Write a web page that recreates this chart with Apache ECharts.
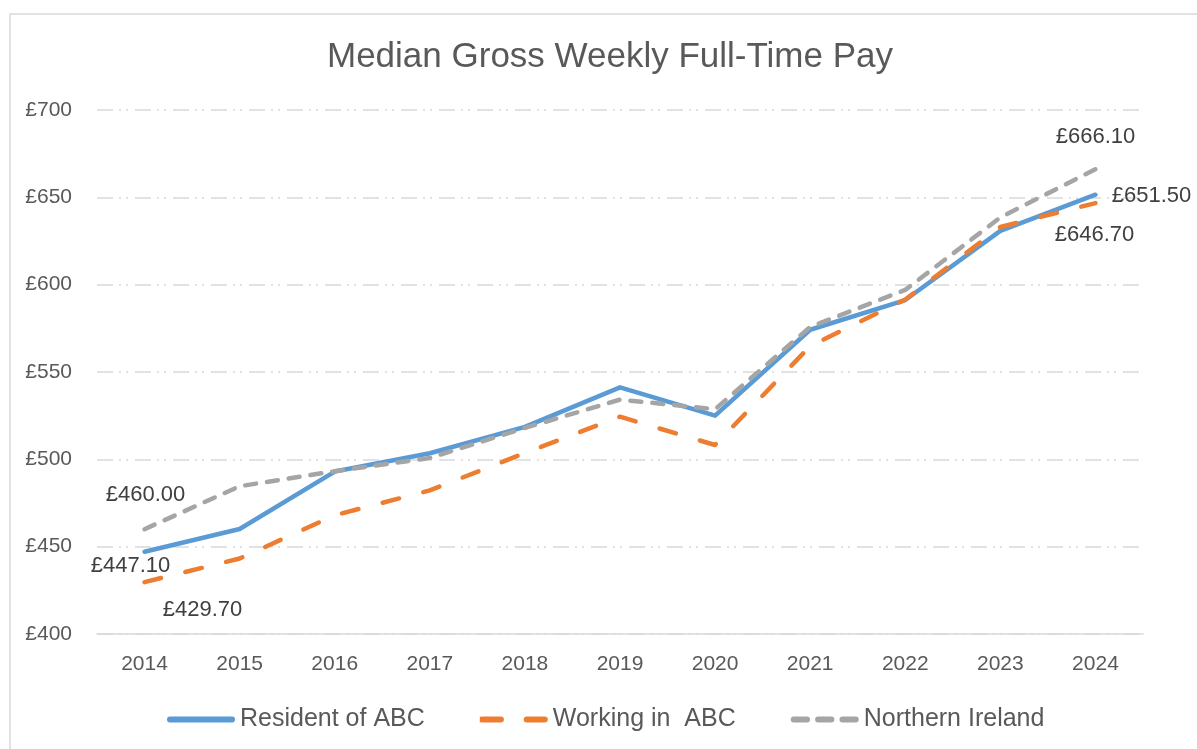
<!DOCTYPE html>
<html>
<head>
<meta charset="utf-8">
<script src="https://cdn.jsdelivr.net/npm/echarts@6/dist/echarts.min.js"></script>
<style>
  html, body { margin: 0; padding: 0; background: #fff; }
  #chart { width: 1197px; height: 749px; }
</style>
</head>
<body>
<div id="chart"></div>
<script>
// values
const years = ["2014", "2015", "2016", "2017", "2018", "2019", "2020", "2021", "2022", "2023", "2024"]
const residentABC = [447.1, 460.1, 493.0, 503.5, 518.6, 541.2, 525.0, 574.2, 591.2, 630.8, 651.5]
const workingABC = [429.7, 443.2, 468.0, 482.2, 503.6, 524.4, 508.2, 564.8, 591.5, 633.0, 646.7]
const northernIreland = [460.0, 484.6, 493.2, 500.8, 518.0, 534.2, 528.7, 575.8, 597.0, 638.5, 666.1]
const yTicks = { min: 400, max: 700, step: 50 }

const BLUE = "#5b9bd5"
const ORANGE = "#ed7d31"
const GREY = "#a5a5a5"
const TEXT = "#595959"
const GRIDLINE = "#d9d9d9"

// only first and last point get a label
function endLabels(values, firstOffset, lastOffset) {
  return values.map((v, i) => {
    if (i === 0) return { value: v, label: { show: true, offset: firstOffset } }
    if (i === values.length - 1) return { value: v, label: { show: true, offset: lastOffset } }
    return v
  })
}

// rounded dash pieces for the legend icons (box 68 x 6)
function dash(x0, x1) {
  return `M${x0 + 3},0H${x1 - 3}A3,3,0,0,1,${x1 - 3},6H${x0 + 3}A3,3,0,0,1,${x0 + 3},0Z`
}

const pointLabel = {
  show: false,
  position: "inside",
  fontFamily: "Liberation Sans",
  fontSize: 22,
  color: "#404040",
  formatter: p => "£" + p.value.toFixed(2),
}

function lineSeries(name, values, color, type, firstOffset, lastOffset) {
  return {
    name: name,
    type: "line",
    data: endLabels(values, firstOffset, lastOffset),
    symbol: "circle",
    symbolSize: 0.01,
    showSymbol: true,
    showAllSymbol: true,
    itemStyle: { color: color },
    lineStyle: { color: color, width: 4.5, type: type, cap: "round", join: "round" },
    label: pointLabel,
    emphasis: { disabled: true },
  }
}

const chart = echarts.init(document.getElementById("chart"))
chart.setOption({
  animation: false,
  backgroundColor: "#fff",
  graphic: [
    {
      type: "rect",
      shape: { x: 10, y: 14, width: 1200, height: 760 },
      style: { fill: "none", stroke: GRIDLINE, lineWidth: 1.5 },
      silent: true,
    },
  ],
  title: {
    text: "Median Gross Weekly Full-Time Pay",
    left: 322,
    top: 35,
    textStyle: { fontFamily: "Liberation Sans", fontSize: 35, fontWeight: "normal", color: TEXT },
  },
  tooltip: { show: false },
  legend: {
    left: 162,
    top: 702,
    itemWidth: 68,
    itemHeight: 6,
    itemGap: 55,
    symbolKeepAspect: false,
    textStyle: { fontFamily: "Liberation Sans", fontSize: 25, color: TEXT },
    data: [
      { name: "Resident of ABC", icon: "path://" + dash(0, 71) },
      { name: "Working in  ABC", icon: "path://M0,0H1V6H0Z" + dash(0, 22) + dash(40, 62) },
      { name: "Northern Ireland", icon: "path://" + dash(0, 19) + dash(24, 43) + dash(48, 67) },
    ],
  },
  grid: { left: 97, right: 54, top: 110, bottom: 115 },
  xAxis: {
    type: "category",
    data: years,
    boundaryGap: true,
    axisLine: { show: true, lineStyle: { color: GRIDLINE, width: 1.5 } },
    axisTick: { show: false },
    axisLabel: { fontFamily: "Liberation Sans", fontSize: 21, color: TEXT, margin: 20 },
  },
  yAxis: {
    type: "value",
    min: yTicks.min,
    max: yTicks.max,
    interval: yTicks.step,
    axisLine: { show: false },
    axisTick: { show: false },
    axisLabel: { fontFamily: "Liberation Sans", fontSize: 21, color: TEXT, margin: 25, formatter: "£{value}" },
    splitLine: {
      lineStyle: { color: GRIDLINE, width: 1.5, type: [16, 6, 2, 5, 2, 7] },
    },
  },
  series: [
    lineSeries("Resident of ABC", residentABC, BLUE, "solid", [-14, 14], [56, 1]),
    lineSeries("Working in  ABC", workingABC, ORANGE, [17, 25], [58, 28], [-1, 32]),
    lineSeries("Northern Ireland", northernIreland, GREY, [11, 11], [1, -34], [0, -32]),
  ],
})
</script>
</body>
</html>
